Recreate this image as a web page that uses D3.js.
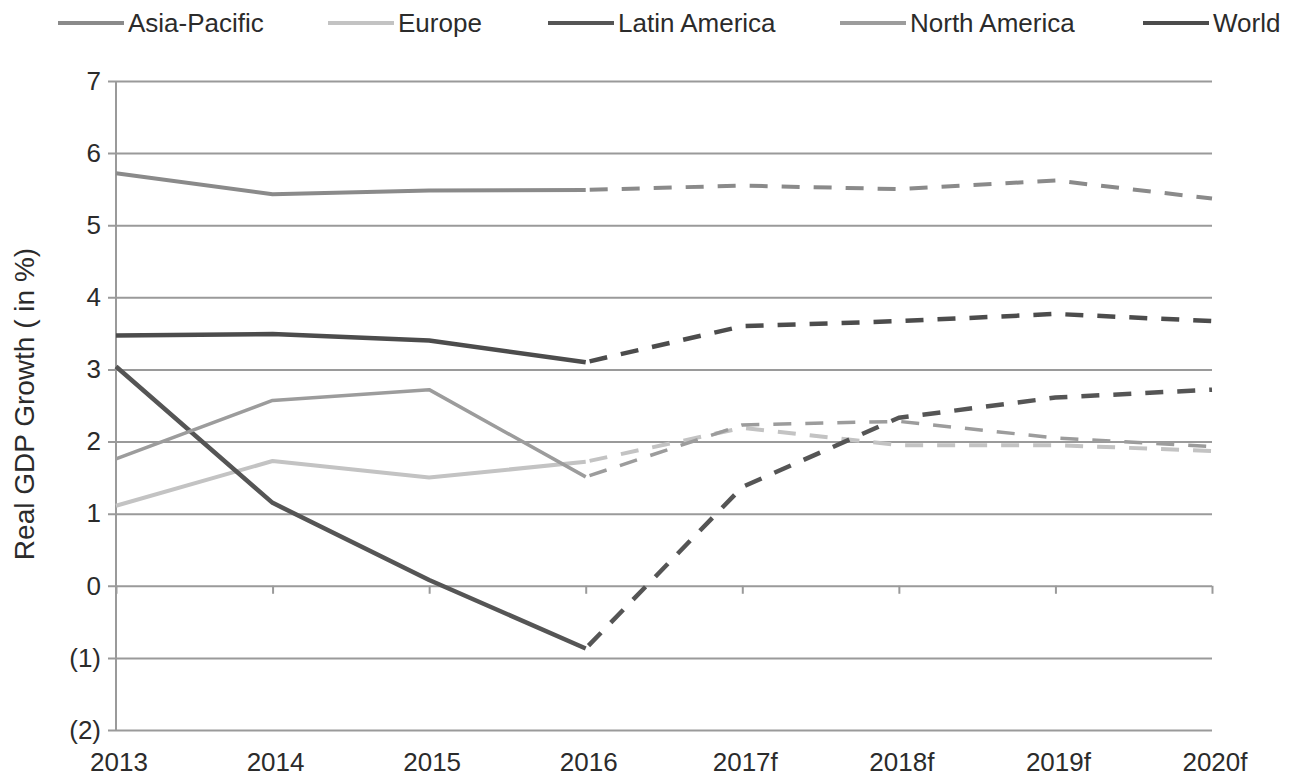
<!DOCTYPE html>
<html>
<head>
<meta charset="utf-8">
<script src="https://cdnjs.cloudflare.com/ajax/libs/d3/7.8.5/d3.min.js"></script>
<style>
    html, body { margin: 0; padding: 0; background: #fff; }
    svg { display: block; font-family: "Liberation Sans", Arial, sans-serif; }
</style>
</head>
<body>
<div class="chart"></div>
<script>
var years = ['2013', '2014', '2015', '2016', '2017f', '2018f', '2019f', '2020f'];
var yTicks = [-2, -1, 0, 1, 2, 3, 4, 5, 6, 7];

var seriesNames = ['Asia-Pacific', 'Europe', 'Latin America', 'North America', 'World'];
var asiaPacific = [5.72, 5.43, 5.48, 5.49, 5.55, 5.50, 5.62, 5.37];
var europe = [1.11, 1.73, 1.50, 1.72, 2.19, 1.95, 1.95, 1.87];
var latinAmerica = [3.04, 1.15, 0.08, -0.87, 1.37, 2.33, 2.61, 2.72];
var northAmerica = [1.76, 2.57, 2.72, 1.51, 2.23, 2.28, 2.05, 1.93];
var world = [3.47, 3.49, 3.40, 3.10, 3.60, 3.67, 3.77, 3.67];

/* index of last actual (non forecast) year */
var lastActual = 3;

var width = 1295, height = 778;
var margin = {left: 116, right: 83, top: 81, bottom: 48};

var svg = d3.select('.chart').append('svg')
    .attr('width', width)
    .attr('height', height);

var x = d3.scalePoint()
    .domain(years)
    .range([margin.left, width - margin.right])
    .padding(0);

var y = d3.scaleLinear()
    .domain([-2, 7])
    .range([height - margin.bottom, margin.top]);

var gridColor = '#9a9a9a';
var textColor = '#2b2b2b';

/* horizontal gridlines, with the little ticks on the left */
svg.append('g')
    .attr('transform', 'translate(' + margin.left + ',0)')
    .call(d3.axisLeft(y)
        .tickValues(yTicks)
        .tickSize(-(width - margin.right - margin.left))
        .tickPadding(15)
        .tickFormat(function (d) { return d < 0 ? '(' + (-d) + ')' : d; }))
    .call(function (g) {
        g.select('.domain').remove();
        g.selectAll('.tick line')
            .attr('x1', -8)
            .attr('stroke', gridColor)
            .attr('stroke-width', 2);
        g.selectAll('.tick text')
            .attr('fill', textColor)
            .style('font-size', '26px');
    });

/* vertical axis line */
svg.append('line')
    .attr('x1', margin.left).attr('x2', margin.left)
    .attr('y1', y(7)).attr('y2', y(-2))
    .attr('stroke', gridColor)
    .attr('stroke-width', 2);

/* category axis sits on zero */
svg.append('g')
    .attr('transform', 'translate(0,' + y(0) + ')')
    .call(d3.axisBottom(x).tickSize(8).tickFormat(''))
    .call(function (g) {
        g.select('.domain').remove();
        g.selectAll('.tick line').attr('stroke', gridColor).attr('stroke-width', 2);
    });

/* category labels below the plot */
svg.append('g')
    .selectAll('text')
    .data(years)
    .enter().append('text')
    .attr('x', function (d) { return x(d) + 3; })
    .attr('y', 771)
    .attr('text-anchor', 'middle')
    .attr('fill', textColor)
    .style('font-size', '26px')
    .text(function (d) { return d; });

/* y title */
svg.append('text')
    .attr('transform', 'translate(34,' + 404 + ') rotate(-90)')
    .attr('text-anchor', 'middle')
    .attr('fill', textColor)
    .style('font-size', '28px')
    .text('Real GDP Growth ( in %)');

var series = [
    {name: seriesNames[0], values: asiaPacific, color: '#8a8a8a', width: 4},
    {name: seriesNames[1], values: europe, color: '#c3c3c3', width: 4},
    {name: seriesNames[2], values: latinAmerica, color: '#555555', width: 4.5},
    {name: seriesNames[3], values: northAmerica, color: '#9c9c9c', width: 3.5},
    {name: seriesNames[4], values: world, color: '#4c4c4c', width: 4.5}
];

var line = d3.line()
    .x(function (d) { return x(d.year); })
    .y(function (d) { return y(d.value); });

var lines = svg.append('g').attr('fill', 'none').attr('stroke-linejoin', 'round');

for (var i = 0; i < series.length; i++) {
    var s = series[i];
    var pts = s.values.map(function (v, j) { return {year: years[j], value: v}; });

    lines.append('path')
        .datum(pts.slice(0, lastActual + 1))
        .attr('d', line)
        .attr('stroke', s.color)
        .attr('stroke-width', s.width);

    lines.append('path')
        .datum(pts.slice(lastActual))
        .attr('d', line)
        .attr('stroke', s.color)
        .attr('stroke-width', s.width)
        .attr('stroke-dasharray', '18,14')
        .attr('stroke-dashoffset', -4);
}

/* legend across the top */
var legendX = [58, 328, 548, 840, 1143];
var legend = svg.append('g');
for (i = 0; i < series.length; i++) {
    var item = legend.append('g').attr('transform', 'translate(' + legendX[i] + ',23)');
    item.append('line')
        .attr('x1', 0).attr('x2', 66)
        .attr('y1', 0).attr('y2', 0)
        .attr('stroke', series[i].color)
        .attr('stroke-width', 4);
    item.append('text')
        .attr('x', 70)
        .attr('y', 9)
        .attr('fill', textColor)
        .style('font-size', '26px')
        .text(series[i].name);
}
</script>
</body>
</html>
